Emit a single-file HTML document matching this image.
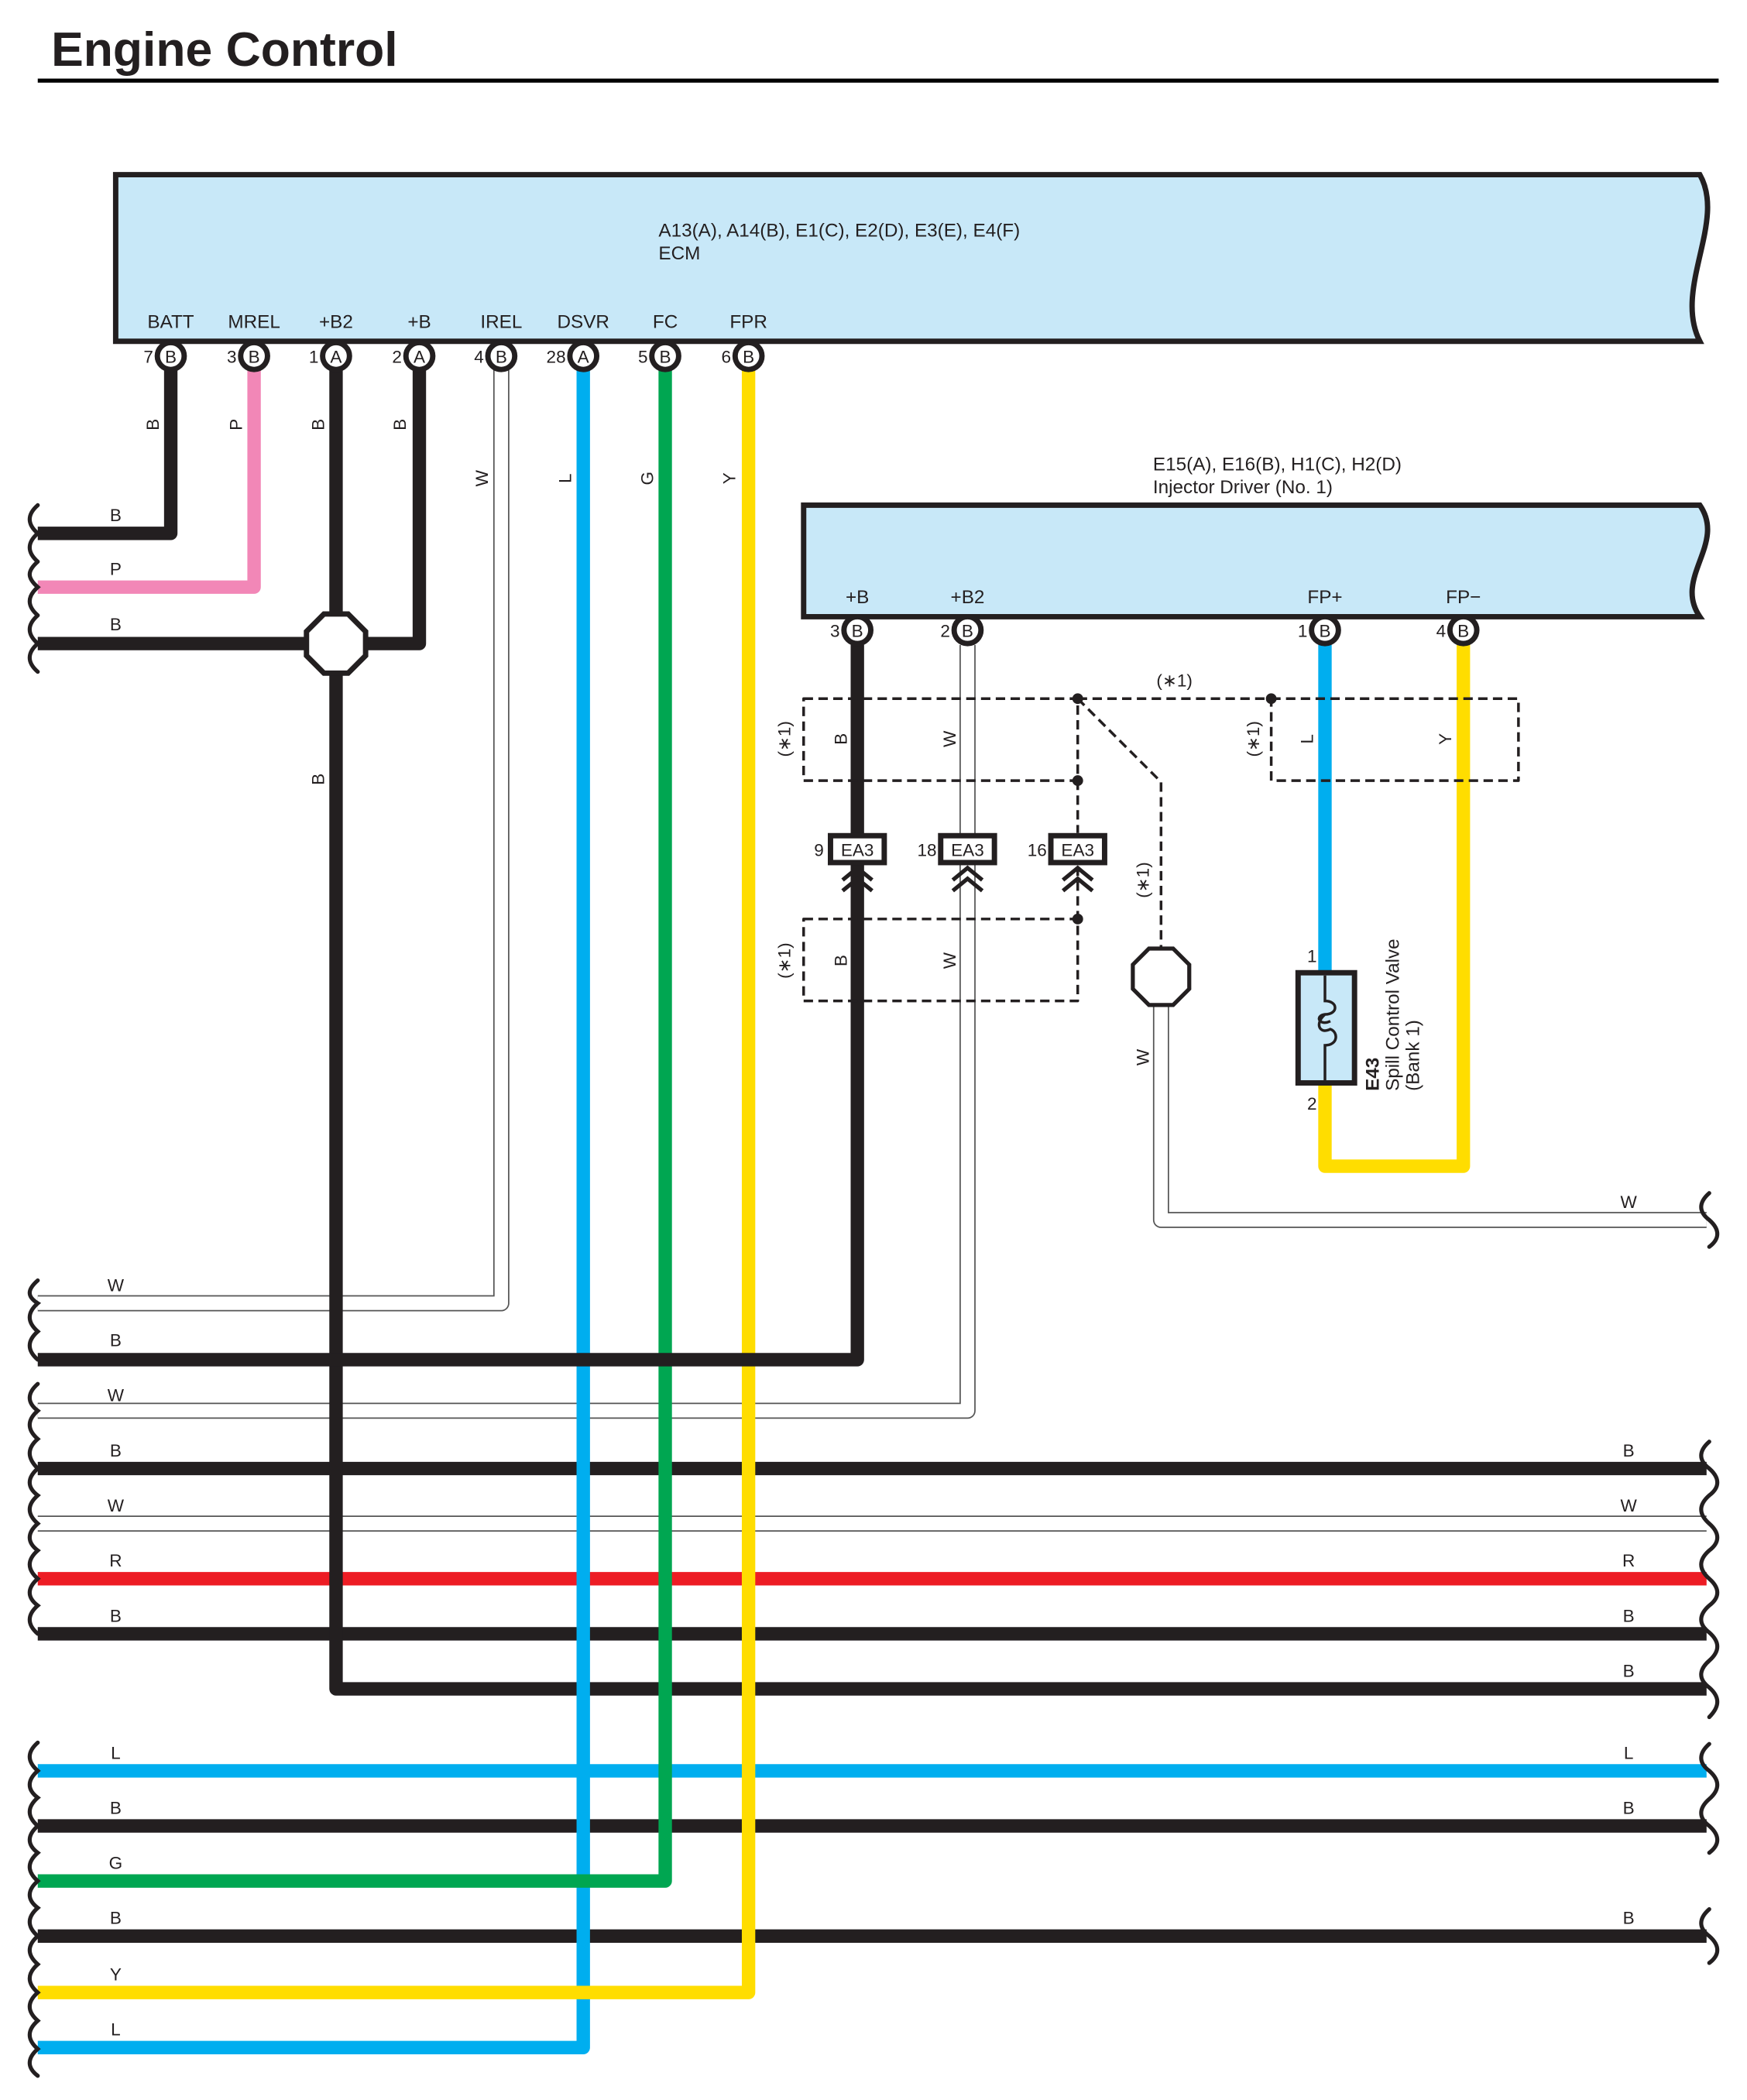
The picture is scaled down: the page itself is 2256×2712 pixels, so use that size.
<!DOCTYPE html>
<html><head><meta charset="utf-8"><style>
html,body{margin:0;padding:0;background:#fff}
svg{display:block}
text{font-family:"Liberation Sans",sans-serif;fill:#231f20}
</style></head><body>
<svg width="2256" height="2712" viewBox="0 0 1300 1563" xmlns="http://www.w3.org/2000/svg">
<text x="38" y="49" font-size="36" font-weight="bold">Engine Control</text>
<line x1="28" y1="60" x2="1279" y2="60" stroke="#000" stroke-width="3"/>

<path d="M86 130 H1265 C1285 165 1245 215 1265 254 H86 Z" fill="#c8e8f8" stroke="#231f20" stroke-width="4"/>
<text x="490" y="176" font-size="14">A13(A), A14(B), E1(C), E2(D), E3(E), E4(F)</text>
<text x="490" y="193" font-size="14">ECM</text>
<g font-size="14" text-anchor="middle">
<text x="127" y="244">BATT</text><text x="189" y="244">MREL</text><text x="250" y="244">+B2</text><text x="312" y="244">+B</text>
<text x="373" y="244">IREL</text><text x="434" y="244">DSVR</text><text x="495" y="244">FC</text><text x="557" y="244">FPR</text>
</g>

<path d="M598 376 H1265 C1285 405 1245 430 1265 459 H598 Z" fill="#c8e8f8" stroke="#231f20" stroke-width="4"/>
<text x="858" y="350" font-size="14">E15(A), E16(B), H1(C), H2(D)</text>
<text x="858" y="367" font-size="14">Injector Driver (No. 1)</text>
<g font-size="14" text-anchor="middle">
<text x="638" y="449">+B</text><text x="720" y="449">+B2</text><text x="986" y="449">FP+</text><text x="1089" y="449">FP−</text>
</g>

<g fill="none" stroke-linejoin="round" stroke-linecap="butt">
<g stroke="#555" stroke-width="12">
<polyline points="373,275 373,970 28,970"/>
<polyline points="720,480 720,1050 28,1050"/>
<polyline points="864,745 864,908 1270,908"/>
<line x1="28" y1="1134" x2="1270" y2="1134"/>
</g>
<g stroke="#fff" stroke-width="10">
<polyline points="373,275 373,970 28,970"/>
<polyline points="720,480 720,1050 28,1050"/>
<polyline points="864,745 864,908 1270,908"/>
<line x1="24" y1="1134" x2="1274" y2="1134"/>
</g>

<g stroke-width="10">
<line x1="28" y1="1093" x2="1270" y2="1093" stroke="#231f20"/>
<line x1="28" y1="1175" x2="1270" y2="1175" stroke="#ed1c24"/>
<line x1="28" y1="1216" x2="1270" y2="1216" stroke="#231f20"/>
<line x1="28" y1="1318" x2="1270" y2="1318" stroke="#00aeef"/>
<line x1="28" y1="1359" x2="1270" y2="1359" stroke="#231f20"/>
<line x1="28" y1="1441" x2="1270" y2="1441" stroke="#231f20"/>
</g>

<g stroke-width="10">
<polyline points="127,275 127,397 28,397" stroke="#231f20"/>
<polyline points="189,275 189,437 28,437" stroke="#f287b7"/>
<polyline points="250,275 250,1257 1270,1257" stroke="#231f20"/>
<polyline points="312,275 312,479 28,479" stroke="#231f20"/>
<polyline points="434,275 434,1524 28,1524" stroke="#00aeef"/>
<polyline points="495,275 495,1400 28,1400" stroke="#00a651"/>
<polyline points="557,275 557,1483 28,1483" stroke="#ffdd00"/>
<polyline points="638,480 638,1012 28,1012" stroke="#231f20"/>
<polyline points="986,480 986,724" stroke="#00aeef"/>
<polyline points="986,806 986,868 1089,868 1089,480" stroke="#ffdd00"/>
</g>

<g stroke="#231f20" stroke-width="2" stroke-dasharray="7,4">
<rect x="598" y="520" width="204" height="61"/>
<rect x="946" y="520" width="184" height="61"/>
<line x1="802" y1="520" x2="946" y2="520"/>
<polyline points="802,520 864,582 864,706"/>
<line x1="802" y1="581" x2="802" y2="620"/>
<line x1="802" y1="645" x2="802" y2="684"/>
<rect x="598" y="684" width="204" height="61"/>
</g>
</g>
<g fill="#231f20">
<circle cx="802" cy="520" r="4"/><circle cx="946" cy="520" r="4"/><circle cx="802" cy="581" r="4"/><circle cx="802" cy="684" r="4"/>
</g>

<polygon points="241,457 259,457 272,470 272,488 259,501 241,501 228,488 228,470" fill="#fff" stroke="#231f20" stroke-width="4"/>
<polygon points="855,706 873,706 885,718 885,736 873,748 855,748 843,736 843,718" fill="#fff" stroke="#231f20" stroke-width="3"/>

<g fill="#fff" stroke="#231f20" stroke-width="4">
<circle cx="127" cy="265" r="10"/><circle cx="189" cy="265" r="10"/><circle cx="250" cy="265" r="10"/><circle cx="312" cy="265" r="10"/>
<circle cx="373" cy="265" r="10"/><circle cx="434" cy="265" r="10"/><circle cx="495" cy="265" r="10"/><circle cx="557" cy="265" r="10"/>
<circle cx="638" cy="469" r="10"/><circle cx="720" cy="469" r="10"/><circle cx="986" cy="469" r="10"/><circle cx="1089" cy="469" r="10"/>
</g>
<g font-size="13" text-anchor="middle">
<text x="127" y="270">B</text><text x="189" y="270">B</text><text x="250" y="270">A</text><text x="312" y="270">A</text>
<text x="373" y="270">B</text><text x="434" y="270">A</text><text x="495" y="270">B</text><text x="557" y="270">B</text>
<text x="638" y="474">B</text><text x="720" y="474">B</text><text x="986" y="474">B</text><text x="1089" y="474">B</text>
</g>
<g font-size="13" text-anchor="end">
<text x="114" y="270">7</text><text x="176" y="270">3</text><text x="237" y="270">1</text><text x="299" y="270">2</text>
<text x="360" y="270">4</text><text x="421" y="270">28</text><text x="482" y="270">5</text><text x="544" y="270">6</text>
<text x="625" y="474">3</text><text x="707" y="474">2</text><text x="973" y="474">1</text><text x="1076" y="474">4</text>
<text x="613" y="637">9</text><text x="697" y="637">18</text><text x="779" y="637">16</text>
</g>

<g fill="#fff" stroke="#231f20" stroke-width="4">
<rect x="618" y="622" width="40" height="20"/><rect x="700" y="622" width="40" height="20"/><rect x="782" y="622" width="40" height="20"/>
</g>
<g font-size="13" text-anchor="middle"><text x="638" y="637">EA3</text><text x="720" y="637">EA3</text><text x="802" y="637">EA3</text></g>
<g fill="none" stroke="#231f20" stroke-width="3">
<path d="M627 655 L638 646 L649 655 M627 663 L638 654 L649 663"/>
<path d="M709 655 L720 646 L731 655 M709 663 L720 654 L731 663"/>
<path d="M791 655 L802 646 L813 655 M791 663 L802 654 L813 663"/>
</g>

<rect x="966" y="724" width="42" height="82" fill="#c8e8f8" stroke="#231f20" stroke-width="4"/>
<path d="M986 726 V745 C996 745 996 755 986 755 C978 756 982 764 990 760 M986 755 C978 762 982 770 990 766 C996 768 996 778 986 778 V804" fill="none" stroke="#231f20" stroke-width="2"/>
<text x="980" y="716" font-size="13" text-anchor="end">1</text>
<text x="980" y="826" font-size="13" text-anchor="end">2</text>
<g transform="translate(1026,812) rotate(-90)">
<text x="0" y="0" font-size="14" font-weight="bold">E43</text>
<text x="0" y="15" font-size="14">Spill Control Valve</text>
<text x="0" y="30" font-size="14">(Bank 1)</text>
</g>

<g font-size="13" text-anchor="middle">
<text transform="translate(118,316) rotate(-90)">B</text>
<text transform="translate(180,316) rotate(-90)">P</text>
<text transform="translate(241,316) rotate(-90)">B</text>
<text transform="translate(302,316) rotate(-90)">B</text>
<text transform="translate(363,356) rotate(-90)">W</text>
<text transform="translate(425,356) rotate(-90)">L</text>
<text transform="translate(486,356) rotate(-90)">G</text>
<text transform="translate(547,356) rotate(-90)">Y</text>
<text transform="translate(241,580) rotate(-90)">B</text>
<text transform="translate(630,550) rotate(-90)">B</text>
<text transform="translate(711,550) rotate(-90)">W</text>
<text transform="translate(977,550) rotate(-90)">L</text>
<text transform="translate(1080,550) rotate(-90)">Y</text>
<text transform="translate(588,550) rotate(-90)">(∗1)</text>
<text transform="translate(937,550) rotate(-90)">(∗1)</text>
<text transform="translate(855,655) rotate(-90)">(∗1)</text>
<text transform="translate(630,715) rotate(-90)">B</text>
<text transform="translate(711,715) rotate(-90)">W</text>
<text transform="translate(588,715) rotate(-90)">(∗1)</text>
<text transform="translate(855,787) rotate(-90)">W</text>
<text x="874" y="511">(∗1)</text>
</g>

<g font-size="13" text-anchor="middle">
<text x="86" y="388">B</text><text x="86" y="428">P</text><text x="86" y="469">B</text>
<text x="86" y="961">W</text><text x="86" y="1002">B</text><text x="86" y="1043">W</text><text x="86" y="1084">B</text>
<text x="86" y="1125">W</text><text x="86" y="1166">R</text><text x="86" y="1207">B</text>
<text x="86" y="1309">L</text><text x="86" y="1350">B</text><text x="86" y="1391">G</text><text x="86" y="1432">B</text>
<text x="86" y="1474">Y</text><text x="86" y="1515">L</text>
<text x="1212" y="899">W</text><text x="1212" y="1084">B</text><text x="1212" y="1125">W</text><text x="1212" y="1166">R</text>
<text x="1212" y="1207">B</text><text x="1212" y="1248">B</text><text x="1212" y="1309">L</text><text x="1212" y="1350">B</text>
<text x="1212" y="1432">B</text>
</g>

<g fill="none" stroke="#231f20" stroke-width="3" stroke-linecap="round">
<path d="M28 376 c-8 7 -8 14 0 21 c-8 7 -8 14 0 21 M28 418 c-8 7 -8 12 0 19 c-8 7 -8 14 0 21 M28 458 c-8 7 -8 14 0 21 c-8 7 -8 14 0 21"/>
<path d="M28 953 c-8 7 -8 12 0 17 c-8 7 -8 14 0 21 c-8 7 -8 14 0 21 M28 1030 c-8 7 -8 14 0 20 c-8 7 -8 14 0 21 c-8 7 -8 14 0 22 c-8 7 -8 14 0 20 c-8 7 -8 14 0 21 c-8 7 -8 14 0 20 c-8 7 -8 14 0 21 c-8 7 -8 14 0 20 c-8 7 -8 14 0 21"/>
<path d="M28 1297 c-8 7 -8 14 0 21 c-8 7 -8 14 0 20 c-8 7 -8 14 0 21 c-8 7 -8 14 0 20 c-8 7 -8 14 0 21 c-8 7 -8 14 0 20 c-8 7 -8 14 0 21 c-8 7 -8 14 0 21 c-8 7 -8 14 0 21 c-8 7 -8 14 0 21 c-8 7 -8 14 0 21 c-8 7 -8 14 0 20"/>
<path d="M1272 888 c-8 7 -8 14 0 20 c8 7 8 14 0 20"/>
<path d="M1272 1073 c-8 7 -8 14 0 20 c8 7 8 14 0 20 c-8 7 -8 14 0 21 c8 7 8 14 0 20 c-8 7 -8 14 0 21 c8 7 8 14 0 20 c-8 7 -8 14 0 20 c8 7 8 14 0 21 c-8 7 -8 14 0 20 c8 7 8 14 0 22"/>
<path d="M1272 1298 c-8 7 -8 14 0 20 c8 7 8 14 0 21 c-8 7 -8 14 0 20 c8 7 8 14 0 20"/>
<path d="M1272 1421 c-8 7 -8 14 0 20 c8 7 8 14 0 20"/>
</g>
</svg>
</body></html>
